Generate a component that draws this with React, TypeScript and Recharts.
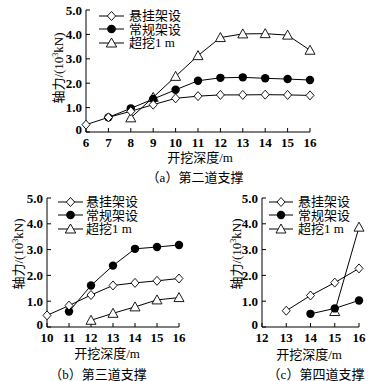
import React from "react";
import { LineChart, Line, XAxis, YAxis } from "recharts";

// (a) 第二道支撑
const depthA = [6, 7, 8, 9, 10, 11, 12, 13, 14, 15, 16];
const hangA = [0.3, 0.6, 0.85, 1.12, 1.38, 1.47, 1.52, 1.52, 1.53, 1.52, 1.5];
const normalA = [null, 0.6, 0.97, 1.35, 1.73, 2.1, 2.22, 2.24, 2.2, 2.17, 2.13];
const overA = [null, null, 0.58, 1.42, 2.28, 3.13, 3.87, 4.02, 4.03, 3.97, 3.35];

// (b) 第三道支撑
const depthB = [10, 11, 12, 13, 14, 15, 16];
const hangB = [0.45, 0.83, 1.24, 1.61, 1.71, 1.79, 1.88];
const normalB = [null, 0.6, 1.61, 2.38, 3.03, 3.1, 3.18];
const overB = [null, null, 0.26, 0.53, 0.78, 1.05, 1.14];

// (c) 第四道支撑
const depthC = [13, 14, 15, 16];
const hangC = [0.63, 1.22, 1.72, 2.27];
const normalC = [null, 0.51, 0.72, 1.03];
const overC = [null, null, 0.6, 3.87];
const ticksC = [12, 13, 14, 15, 16];

const yTicks = [0, 1, 2, 3, 4, 5];
const seriesNames = ["悬挂架设", "常规架设", "超挖1 m"];

const numFont = "'Liberation Serif', 'DejaVu Serif', serif";
const cjkFont = "'Liberation Serif', 'Noto Sans CJK SC', serif";

const buildRows = (x: number[], a: (number | null)[], b: (number | null)[], c: (number | null)[]) =>
  x.map((d, i) => ({ x: d, hang: a[i], normal: b[i], over: c[i] }));

const Diamond = (p: any) => {
  const { cx, cy } = p;
  if (cx == null || cy == null) return <g key={p.key} />;
  return (
    <path
      key={p.key}
      d={`M${cx},${cy - 4.5}L${cx + 4},${cy}L${cx},${cy + 4.5}L${cx - 4},${cy}Z`}
      fill="#fff"
      stroke="#000"
      strokeWidth={0.9}
    />
  );
};

const Dot = (p: any) => {
  const { cx, cy } = p;
  if (cx == null || cy == null) return <g key={p.key} />;
  return <circle key={p.key} cx={cx} cy={cy} r={4.2} fill="#000" />;
};

const Tri = (p: any) => {
  const { cx, cy } = p;
  if (cx == null || cy == null) return <g key={p.key} />;
  return (
    <path
      key={p.key}
      d={`M${cx},${cy - 5}L${cx + 5},${cy + 4}L${cx - 5},${cy + 4}Z`}
      fill="#fff"
      stroke="#000"
      strokeWidth={0.9}
    />
  );
};

const tickFont = { fill: "#000", fontSize: 13, fontFamily: numFont, fontWeight: 700 };

// y tick: the "0" sits a little higher so it clears the x labels
const YTick = (p: any) => {
  const v = p.payload.value;
  return (
    <text x={p.x} y={p.y + (v === 0 ? -3 : 0)} dy="0.36em" textAnchor="end" {...tickFont}>
      {v === 0 ? "0" : v.toFixed(1)}
    </text>
  );
};

const icons = [
  <path d="M12,1.5L16,6L12,10.5L8,6Z" fill="#fff" stroke="#000" strokeWidth={0.9} />,
  <circle cx={12} cy={6} r={4.2} fill="#000" />,
  <path d="M12,1L17,10L7,10Z" fill="#fff" stroke="#000" strokeWidth={0.9} />,
];

function LegendBox({ left, top, lineW, gap }: { left: number; top: number; lineW: number; gap: number }) {
  return (
    <div style={{ position: "absolute", left, top, fontFamily: cjkFont, fontSize: 13, lineHeight: "13.5px" }}>
      {seriesNames.map((n, i) => (
        <div key={n} style={{ display: "flex", alignItems: "center", height: 13.5 }}>
          <svg width={lineW} height={12} viewBox={`0 0 24 12`} preserveAspectRatio="none" style={{ overflow: "visible" }}>
            <line x1={0} y1={6} x2={24} y2={6} stroke="#000" strokeWidth={1} />
            {icons[i]}
          </svg>
          <span style={{ marginLeft: gap, whiteSpace: "nowrap" }}>{n}</span>
        </div>
      ))}
    </div>
  );
}

function Text({ x, y, children, rotate }: { x: number; y: number; children: React.ReactNode; rotate?: boolean }) {
  return (
    <div
      style={{
        position: "absolute",
        left: x,
        top: y,
        transform: `translate(-50%, -50%)${rotate ? " rotate(-90deg)" : ""}`,
        whiteSpace: "nowrap",
        fontFamily: cjkFont,
        fontSize: 13,
        color: "#000",
      }}
    >
      {children}
    </div>
  );
}

const YTitle = () => (
  <>
    轴力/(10<sup style={{ fontSize: 8, verticalAlign: "5px" }}>3</sup>kN)
  </>
);

type PanelProps = {
  left: number;
  top: number;
  width: number;
  height: number;
  margin: { top: number; right: number; bottom: number; left: number };
  yWidth: number;
  xDomain: [number, number];
  xTicks: number[];
  rows: any[];
};

function Panel({ left, top, width, height, margin, yWidth, xDomain, xTicks, rows }: PanelProps) {
  return (
    <div style={{ position: "absolute", left, top }}>
      <LineChart width={width} height={height} data={rows} margin={margin}>
        <XAxis
          dataKey="x"
          type="number"
          domain={xDomain}
          ticks={xTicks}
          interval={0}
          height={18}
          tickSize={-4}
          tickMargin={10}
          axisLine={{ stroke: "#000" }}
          tickLine={{ stroke: "#000" }}
          tick={tickFont}
        />
        <YAxis
          type="number"
          domain={[0, 5]}
          ticks={yTicks}
          interval={0}
          width={yWidth}
          tickSize={-4}
          tickMargin={8}
          axisLine={{ stroke: "#000" }}
          tickLine={{ stroke: "#000" }}
          tick={YTick}
        />
        <Line dataKey="over" stroke="#000" strokeWidth={1} dot={Tri} isAnimationActive={false} />
        <Line dataKey="normal" stroke="#000" strokeWidth={1} dot={Dot} isAnimationActive={false} />
        <Line dataKey="hang" stroke="#000" strokeWidth={1} dot={Diamond} isAnimationActive={false} />
      </LineChart>
    </div>
  );
}

export default function App() {
  return (
    <div style={{ position: "absolute", left: 0, top: 0, width: 377, height: 381, background: "#fff", overflow: "hidden" }}>
      <Panel
        left={0}
        top={0}
        width={377}
        height={150}
        margin={{ top: 10, right: 67, bottom: 0, left: 46 }}
        yWidth={40}
        xDomain={[6, 16]}
        xTicks={depthA}
        rows={buildRows(depthA, hangA, normalA, overA)}
      />
      <LegendBox left={99} top={9} lineW={25} gap={5} />
      <Text x={57} y={68} rotate><YTitle /></Text>
      <Text x={200} y={156}>开挖深度/m</Text>
      <Text x={195} y={176}>（a）第二道支撑</Text>

      <Panel
        left={0}
        top={180}
        width={200}
        height={170}
        margin={{ top: 18, right: 21, bottom: 5, left: 17 }}
        yWidth={30}
        xDomain={[10, 16]}
        xTicks={depthB}
        rows={buildRows(depthB, hangB, normalB, overB)}
      />
      <LegendBox left={58} top={195} lineW={25} gap={3} />
      <Text x={17} y={254} rotate><YTitle /></Text>
      <Text x={107} y={352}>开挖深度/m</Text>
      <Text x={98} y={373}>（b）第三道支撑</Text>

      <Panel
        left={215}
        top={180}
        width={160}
        height={170}
        margin={{ top: 18, right: 16, bottom: 5, left: 17 }}
        yWidth={30}
        xDomain={[12, 16]}
        xTicks={ticksC}
        rows={buildRows(depthC, hangC, normalC, overC)}
      />
      <LegendBox left={269} top={195} lineW={24} gap={5} />
      <Text x={235} y={254} rotate><YTitle /></Text>
      <Text x={309} y={353}>开挖深度/m</Text>
      <Text x={316} y={373}>（c）第四道支撑</Text>
    </div>
  );
}
